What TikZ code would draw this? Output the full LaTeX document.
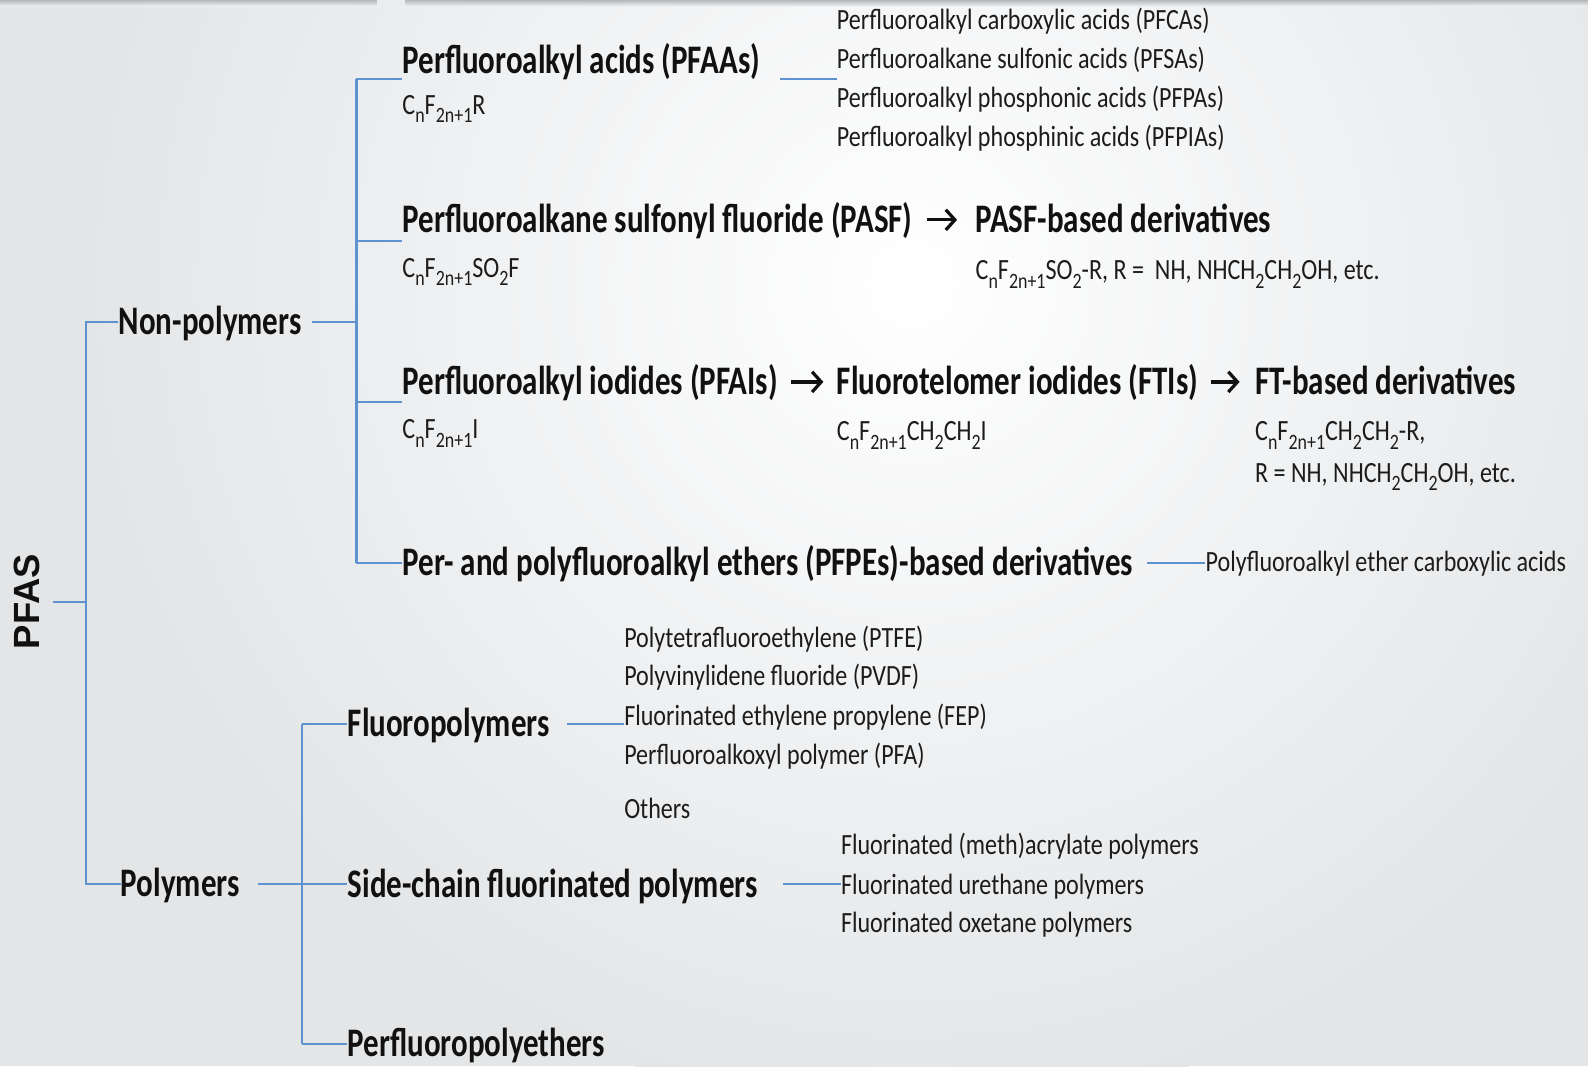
\documentclass[tikz,border=0pt]{standalone}
\usepackage{fontspec}
\usetikzlibrary{arrows.meta,calc}
\newfontfamily\cfh[FakeStretch=0.765]{Carlito}
\newfontfamily\cfs[FakeStretch=0.82]{Carlito}
\newfontfamily\pfasfont{Liberation Sans}
\definecolor{linkblue}{HTML}{5E93CF}
\definecolor{bgray}{HTML}{E3E5E7}
\definecolor{ink}{HTML}{111111}
\definecolor{inks}{HTML}{1C1C1C}
\newcommand\sbs[1]{\raisebox{-4.2pt}{\fontsize{10.8}{10.8}\selectfont #1}}
\tikzset{
  head/.style={font=\cfh\bfseries\fontsize{20}{24}\selectfont, text=ink, anchor=base west, inner sep=0pt, text height=12.9pt, text depth=0pt},
  small/.style={font=\cfs\fontsize{14.5}{17}\selectfont, text=inks, anchor=base west, inner sep=0pt, text height=9.3pt, text depth=0pt},
  link/.style={draw=linkblue, line width=1pt},
  arr/.style={draw=ink, line width=1.6pt, -{Straight Barb[length=4.5pt,width=10pt,line width=1.6pt]}},
}
\begin{document}
\begin{tikzpicture}[x=0.5pt,y=-0.5pt]
\useasboundingbox (0,0) rectangle (1568,1053);
% background
\fill[bgray] (0,0) rectangle (1568,1053);
\begin{scope}
\clip (0,0) rectangle (1568,1053);
\shade[inner color=white, outer color=bgray] (900,280) circle (820);
\shade[top color=bgray!80!black, bottom color=bgray!60!white] (0,0) rectangle (372,6);
\shade[top color=bgray!80!black, bottom color=bgray!60!white] (400,0) rectangle (1568,6);
\end{scope}

% PFAS
\node[font=\pfasfont\bfseries\fontsize{18}{18}\selectfont, text=ink, rotate=90, anchor=south, inner sep=0pt] (pfas) at (40,594) {PFAS};

% level 1
\node[head] (np) at (117,330) {Non-polymers};
\node[head] (pol) at (119,885) {Polymers};

% non-polymers branches
\node[head] (pfaa) at (397,73) {Perfluoroalkyl acids (PFAAs)};
\node[small] (pfaaf) at (397,113) {C\sbs{n}F\sbs{2n+1}R};
\node[small] (l1) at (826,29) {Perfluoroalkyl carboxylic acids (PFCAs)};
\node[small] (l2) at (826,67.5) {Perfluoroalkane sulfonic acids (PFSAs)};
\node[small] (l3) at (826,106.5) {Perfluoroalkyl phosphonic acids (PFPAs)};
\node[small] (l4) at (826,145) {Perfluoroalkyl phosphinic acids (PFPIAs)};

\node[head] (pasf) at (397,230) {Perfluoroalkane sulfonyl fluoride (PASF)};
\node[small] (pasff) at (397,274) {C\sbs{n}F\sbs{2n+1}SO\sbs{2}F};
\node[head] (pasfd) at (963,230) {PASF-based derivatives};
\node[small] (pasfdf) at (963,276) {C\sbs{n}F\sbs{2n+1}SO\sbs{2}-R, R =\ \ NH, NHCH\sbs{2}CH\sbs{2}OH, etc.};

\node[head] (pfai) at (397,390) {Perfluoroalkyl iodides (PFAIs)};
\node[small] (pfaif) at (397,433) {C\sbs{n}F\sbs{2n+1}I};
\node[head] (fti) at (826,390) {Fluorotelomer iodides (FTIs)};
\node[small] (ftif) at (826,435) {C\sbs{n}F\sbs{2n+1}CH\sbs{2}CH\sbs{2}I};
\node[head] (ftd) at (1239,390) {FT-based derivatives};
\node[small] (ftdf1) at (1239,435) {C\sbs{n}F\sbs{2n+1}CH\sbs{2}CH\sbs{2}-R,};
\node[small] (ftdf2) at (1239,476) {R = NH, NHCH\sbs{2}CH\sbs{2}OH, etc.};

\node[head] (pfpe) at (397,568) {Per- and polyfluoroalkyl ethers (PFPEs)-based derivatives};
\node[small] (pfpel) at (1190,564) {Polyfluoroalkyl ether carboxylic acids};

% polymers branches
\node[head] (flp) at (343,727) {Fluoropolymers};
\node[small] (f1) at (616,639) {Polytetrafluoroethylene (PTFE)};
\node[small] (f2) at (616,677) {Polyvinylidene fluoride (PVDF)};
\node[small] (f3) at (616,716) {Fluorinated ethylene propylene (FEP)};
\node[small] (f4) at (616,755) {Perfluoroalkoxyl polymer (PFA)};
\node[small] (f5) at (616,808) {Others};

\node[head] (scp) at (343,886) {Side-chain fluorinated polymers};
\node[small] (s1) at (830,844) {Fluorinated (meth)acrylate polymers};
\node[small] (s2) at (830,883) {Fluorinated urethane polymers};
\node[small] (s3) at (830,921) {Fluorinated oxetane polymers};

\node[head] (pfpol) at (343,1043) {Perfluoropolyethers};

% junctions and line starts
\coordinate (j0) at (85,594);
\coordinate (ja) at (85,318);
\coordinate (jb) at (85,873);
\coordinate (npout) at (308,318);
\coordinate (jc) at (352,318);
\coordinate (jd) at (352,78);
\coordinate (je) at (352,238);
\coordinate (jf) at (352,397);
\coordinate (jg) at (352,556);
\coordinate (polout) at (255,873);
\coordinate (jh) at (298,873);
\coordinate (ji) at (298,715);
\coordinate (jj) at (298,1031);
\coordinate (pfaaout) at (770,78);
\coordinate (pfpeout) at (1133,556);
\coordinate (flout) at (560,715);
\coordinate (scout) at (773,873);

% connectors
\draw[link] ([xshift=6pt]pfas.south) -- (j0);
\draw[link] (np.west |- ja) -- (ja) -- (jb) -- (pol.west |- jb);
\draw[link] (npout) -- (jc);
\draw[link] (jd) -- (jg);
\draw[link] (jd) -- (pfaa.west |- jd);
\draw[link] (je) -- (pasf.west |- je);
\draw[link] (jf) -- (pfai.west |- jf);
\draw[link] (jg) -- (pfpe.west |- jg);
\draw[link] (pfaaout) -- (l1.west |- pfaaout);
\draw[link] (pfpeout) -- (pfpel.west |- pfpeout);
\draw[link] (polout) -- (jh) -- (scp.west |- jh);
\draw[link] (ji) -- (jj);
\draw[link] (ji) -- (flp.west |- ji);
\draw[link] (jj) -- (pfpol.west |- jj);
\draw[link] (flout) -- (f3.west |- flout);
\draw[link] (scout) -- (s2.west |- scout);

% reaction arrows
\draw[arr, shorten <=7pt, shorten >=9pt] (pasf.east) -- (pasfd.west);
\draw[arr, shorten <=6.5pt, shorten >=6.5pt] (pfai.east) -- (fti.west);
\draw[arr, shorten <=6pt, shorten >=7.5pt] (fti.east) -- (ftd.west);
\end{tikzpicture}
\end{document}
